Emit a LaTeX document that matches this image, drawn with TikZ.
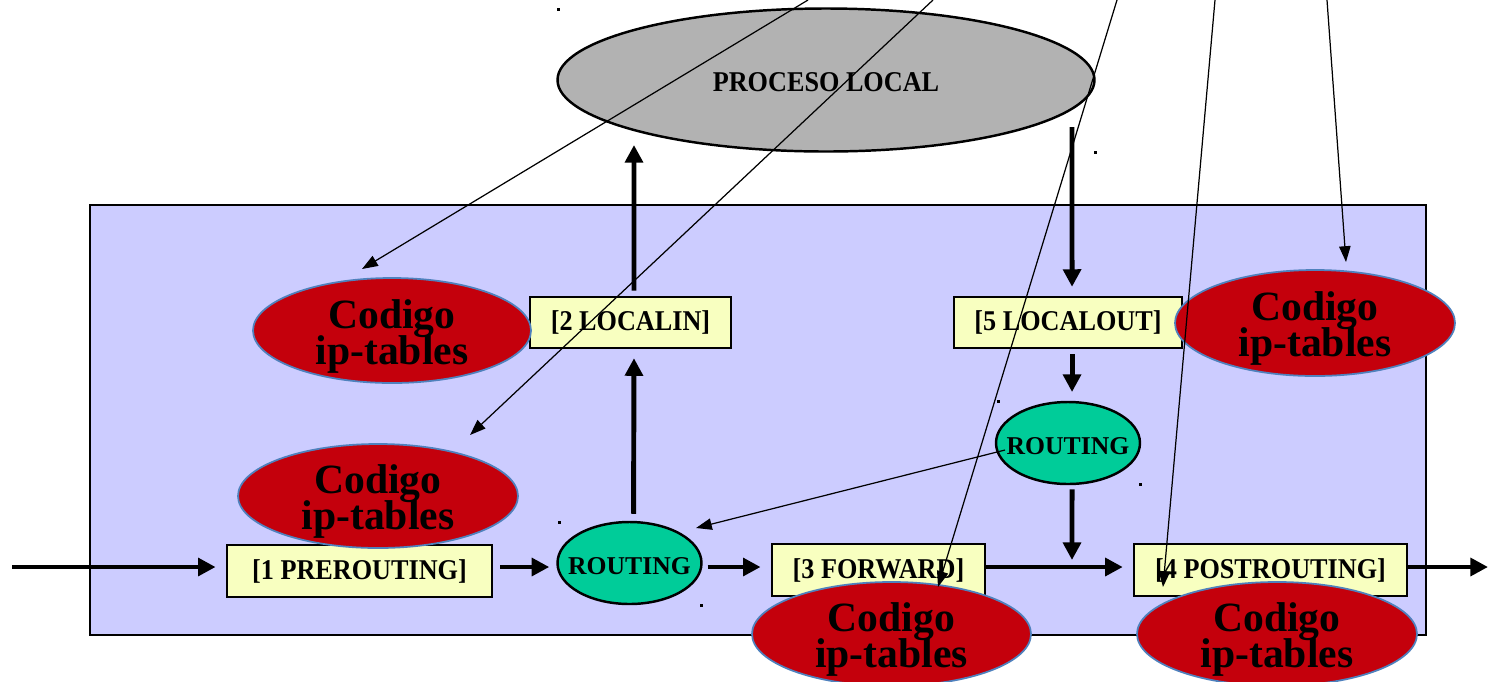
\documentclass[tikz,border=0pt]{standalone}
\usepackage{fontspec}
\setmainfont{Liberation Serif}
\newfontfamily\lblfont[FakeStretch=0.915]{Liberation Serif}
\usetikzlibrary{arrows.meta,shapes.geometric}
\definecolor{lav}{RGB}{204,204,255}
\definecolor{boxyel}{RGB}{248,255,192}
\definecolor{routegreen}{RGB}{0,204,153}
\definecolor{ipred}{RGB}{196,0,12}
\definecolor{ipedge}{RGB}{79,129,189}
\definecolor{procgray}{RGB}{178,178,178}
\newcommand\tightlines{\lineskiplimit-30pt\relax}
\newcommand\lowerby[1]{\rule{0pt}{#1}}
\begin{document}
\begin{tikzpicture}[x=0.02cm,y=-0.02cm,
  hookbox/.style={draw=black,line width=1.6pt,fill=boxyel,inner sep=0pt,
    minimum height=52*0.02cm,font=\lblfont\bfseries\fontsize{16.3pt}{19pt}\selectfont},
  ipt/.style={ellipse,draw=ipedge,line width=1pt,fill=ipred,inner xsep=0pt,inner ysep=-8pt,
    minimum width=280*0.02cm,minimum height=105*0.02cm,align=center,
    font=\bfseries\fontsize{23.7pt}{20.5pt}\selectfont\tightlines},
  routing/.style={ellipse,draw=black,line width=1.4pt,fill=routegreen,inner xsep=-6pt,inner ysep=0pt,
    minimum width=144*0.02cm,minimum height=82*0.02cm,
    font=\bfseries\fontsize{14.6pt}{17pt}\selectfont},
  flow/.style={line width=2.8pt,-{Triangle[length=10pt,width=10pt]}},
  hint/.style={line width=0.7pt,-{Triangle[length=9pt,width=6.5pt]}},
  speck/.style={fill=black}
]
\useasboundingbox (0,0) rectangle (1489,681);

% system box
\draw[fill=lav,line width=1.2pt] (90,205) rectangle (1426,635);

% local process
\node[ellipse,draw=black,line width=1.4pt,fill=procgray,inner sep=0pt,
  minimum width=537*0.02cm,minimum height=143*0.02cm,
  font=\lblfont\bfseries\fontsize{16.3pt}{19pt}\selectfont] (proc) at (826,80) {\lowerby{13.6pt}PROCESO LOCAL};

% hook boxes
\node[hookbox,minimum width=265*0.02cm] (pre) at (359.5,571) {[1 PREROUTING]};
\node[hookbox,minimum width=201*0.02cm,minimum height=51*0.02cm] (li) at (630.5,322.5) {[2 LOCALIN]};
\node[hookbox,minimum width=228*0.02cm,minimum height=51*0.02cm] (lo) at (1068,322.5) {[5 LOCALOUT]};
\node[hookbox,minimum width=213*0.02cm] (fw) at (878.5,570) {[3 FORWARD]};
\node[hookbox,minimum width=273*0.02cm] (po) at (1270.5,570) {[4 POSTROUTING]};

% routing decisions
\node[routing] (r1) at (629.5,563) {\lowerby{12.7pt}ROUTING};
\node[routing] (r2) at (1068,443) {\lowerby{12.7pt}ROUTING};

% ip-tables code
\node[ipt,minimum width=278*0.02cm] (c1) at (392,330.5) {\lowerby{22.8pt}Codigo\\ip-tables};
\node[ipt,minimum height=104*0.02cm] (c2) at (378,496) {\lowerby{22.8pt}Codigo\\ip-tables};
\node[ipt,minimum height=106*0.02cm] (c3) at (1315,323) {\lowerby{22.8pt}Codigo\\ip-tables};
\node[ipt,minimum width=279*0.02cm,minimum height=104*0.02cm] (c4) at (891.5,634) {\lowerby{22.8pt}Codigo\\ip-tables};
\node[ipt,minimum height=104*0.02cm] (c5) at (1277,634) {\lowerby{22.8pt}Codigo\\ip-tables};

% free ends
\coordinate (inL) at (12,567);
\coordinate (outR) at (1488,567);
\coordinate (p7) at (634,145);
\coordinate (p8) at (1072,127);
\coordinate (p10) at (1072,560);

% packet flow
\draw[flow,shorten >=5.7pt] (inL) -- (inL -| pre.west);
\draw[flow,shorten <=4pt,shorten >=4pt] (pre.east |- inL) -- (r1.west |- inL);
\draw[flow,shorten <=2.8pt,shorten >=5.7pt] (r1.east |- inL) -- (fw.west |- inL);
\draw[flow,shorten >=5.6pt] (fw.east |- inL) -- (po.west |- inL);
\draw[flow] (po.east |- inL) -- (outR);
\draw[flow,shorten <=4pt,shorten >=5pt] ([xshift=2.3pt]r1.north) -- ([xshift=2pt]li.south);
\draw[flow,shorten <=2.8pt] ([xshift=2pt]li.north) -- (p7);
\draw[flow,shorten >=5pt] (p8) -- ([xshift=2.3pt]lo.north);
\draw[flow,shorten <=2.8pt,shorten >=5pt] ([xshift=2.3pt]lo.south) -- ([xshift=2.3pt]r2.north);
\draw[flow,shorten <=2.3pt] ([xshift=2.3pt]r2.south) -- (p10);

% pointers to the ip-tables code
\coordinate (ta) at (808,0);   \coordinate (ha) at (362,269);
\coordinate (tb) at (933,0);   \coordinate (hb) at (470,435);
\coordinate (sc) at (1005,450); \coordinate (hc) at (696,528);
\coordinate (td) at (1117,0);  \coordinate (hd) at (938,587);
\coordinate (te) at (1215,0);  \coordinate (he) at (1163,587);
\coordinate (tf) at (1327,0);  \coordinate (hf) at (1346,262);
\draw[hint] (ta) -- (ha);
\draw[hint] (tb) -- (hb);
\draw[hint] (sc) -- (hc);
\draw[hint] (td) -- (hd);
\draw[hint] (te) -- (he);
\draw[hint] (tf) -- (hf);

% specks
\fill[speck] (557,8) rectangle ++(3,3);
\fill[speck] (1094,151) rectangle ++(3,3);
\fill[speck] (997,400) rectangle ++(3,3);
\fill[speck] (1139,483) rectangle ++(3,3);
\fill[speck] (558,521) rectangle ++(3,3);
\fill[speck] (700,604) rectangle ++(3,3);
\end{tikzpicture}
\end{document}
